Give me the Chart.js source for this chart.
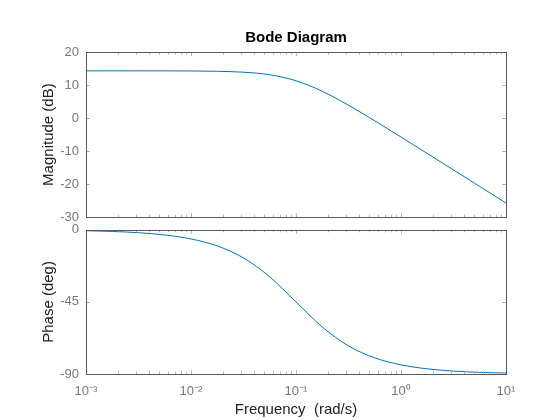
<!DOCTYPE html>
<html>
<head>
<meta charset="utf-8">
<script src="https://cdn.jsdelivr.net/npm/chart.js@4"></script>
<style>
  body { margin: 0; background: #fff; }
  #wrap { position: relative; width: 560px; height: 420px; }
  .box { position: absolute; left: 0; width: 560px; }
</style>
</head>
<body>
<div id="wrap">
  <div class="box" style="top:0;height:232px"><canvas id="magChart"></canvas></div>
  <div class="box" style="top:215px;height:205px"><canvas id="phaseChart"></canvas></div>
</div>
<script>
// frequency samples (rad/s), quarter decade apart
const freq = [0.001, 0.001778, 0.003162, 0.005623, 0.01, 0.01778, 0.03162, 0.05623,
  0.1, 0.1778, 0.3162, 0.5623, 1, 1.778, 3.162, 5.623, 10];
const magnitude = [14.3, 14.3, 14.3, 14.29, 14.26, 14.16, 13.89, 13.11,
  11.29, 8.11, 3.89, -0.83, -5.74, -10.71, -15.7, -20.7, -25.7];
const phase = [-0.57, -1.02, -1.81, -3.22, -5.71, -10.08, -17.55, -29.36,
  -45, -60.64, -72.45, -79.92, -84.29, -86.78, -88.19, -88.98, -89.43];
const freqTicks = [0.001, 0.01, 0.1, 1, 10];
const freqTickLabels = ["10\u207B\u00B3", "10\u207B\u00B2", "10\u207B\u00B9", "10\u2070", "10\u00B9"];
const magTicks = [-30, -20, -10, 0, 10, 20];
const phaseTicks = [-90, -45, 0];

const lineColor = "#0072BD";
const font = "'Liberation Sans', Arial, sans-serif";

// MATLAB style box with inward ticks
const boxPlugin = {
  id: "matlabBox",
  afterDraw(chart) {
    const { ctx, chartArea: a, scales } = chart;
    ctx.save();
    ctx.lineWidth = 1;
    ctx.strokeStyle = "#b4b4b4";
    ctx.beginPath();
    for (let d = -3; d <= 1; d++) {
      for (let m = 1; m <= 9; m++) {
        const v = m * Math.pow(10, d);
        if (v > 10) break;
        const x = Math.round(scales.x.getPixelForValue(v)) + 0.5;
        const len = m === 1 ? 4 : 2.5;
        ctx.moveTo(x, a.bottom); ctx.lineTo(x, a.bottom - len);
        ctx.moveTo(x, a.top); ctx.lineTo(x, a.top + len);
      }
    }
    chart.options.ticksY.forEach(v => {
      const y = Math.round(scales.y.getPixelForValue(v)) + 0.5;
      ctx.moveTo(a.left, y); ctx.lineTo(a.left + 4, y);
      ctx.moveTo(a.right, y); ctx.lineTo(a.right - 4, y);
    });
    ctx.stroke();
    ctx.strokeStyle = "#5a5a5a";
    ctx.strokeRect(Math.round(a.left) + 0.5, Math.round(a.top) + 0.5,
      Math.round(a.right - a.left), Math.round(a.bottom - a.top));
    ctx.restore();
  }
};

function xScale(showLabels) {
  return {
    type: "logarithmic",
    min: 0.001,
    max: 10,
    afterBuildTicks: s => { s.ticks = freqTicks.map(v => ({ value: v })); },
    afterFit: s => { s.height = showLabels ? 46 : 6; },
    grid: { display: false, drawTicks: false },
    border: { display: false },
    ticks: {
      display: showLabels,
      autoSkip: false,
      maxRotation: 0,
      padding: 10,
      color: "#777",
      font: { family: font, size: 13 },
      callback: (v) => freqTickLabels[freqTicks.indexOf(v)] || ""
    },
    title: {
      display: showLabels,
      text: "Frequency  (rad/s)",
      color: "#222",
      font: { family: font, size: 15 },
      padding: { top: 0, bottom: 1 }
    }
  };
}

function yScale(min, max, ticks, label) {
  return {
    min: min,
    max: max,
    afterBuildTicks: s => { s.ticks = ticks.map(v => ({ value: v })); },
    afterFit: s => { s.width = 86; },
    grid: { display: false, drawTicks: false },
    border: { display: false },
    ticks: {
      color: "#777",
      padding: 7,
      font: { family: font, size: 13 }
    },
    title: {
      display: true,
      text: label,
      color: "#222",
      font: { family: font, size: 15 },
      padding: { top: 40, bottom: 0 }
    }
  };
}

const common = {
  responsive: true,
  maintainAspectRatio: false,
  animation: false,
  events: [],
  elements: { point: { radius: 0 } }
};

new Chart(document.getElementById("magChart"), {
  type: "line",
  data: {
    datasets: [{
      data: freq.map((f, i) => ({ x: f, y: magnitude[i] })),
      borderColor: lineColor,
      borderWidth: 1,
      cubicInterpolationMode: "monotone"
    }]
  },
  options: Object.assign({}, common, {
    ticksY: magTicks,
    layout: { padding: { top: 0, right: 54, left: 0, bottom: 0 } },
    plugins: {
      legend: { display: false },
      tooltip: { enabled: false },
      title: {
        display: true,
        text: "Bode Diagram",
        fullSize: false,
        color: "#000",
        font: { family: font, size: 15, weight: "bold" },
        padding: { top: 29, bottom: 5 }
      }
    },
    scales: { x: xScale(false), y: yScale(-30, 20, magTicks, "Magnitude (dB)") }
  }),
  plugins: [boxPlugin]
});

new Chart(document.getElementById("phaseChart"), {
  type: "line",
  data: {
    datasets: [{
      data: freq.map((f, i) => ({ x: f, y: phase[i] })),
      borderColor: lineColor,
      borderWidth: 1,
      cubicInterpolationMode: "monotone"
    }]
  },
  options: Object.assign({}, common, {
    ticksY: phaseTicks,
    layout: { padding: { top: 7, right: 54, left: 0, bottom: 0 } },
    plugins: { legend: { display: false }, tooltip: { enabled: false } },
    scales: { x: xScale(true), y: yScale(-90, 0, phaseTicks, "Phase (deg)") }
  }),
  plugins: [boxPlugin]
});
</script>
</body>
</html>
